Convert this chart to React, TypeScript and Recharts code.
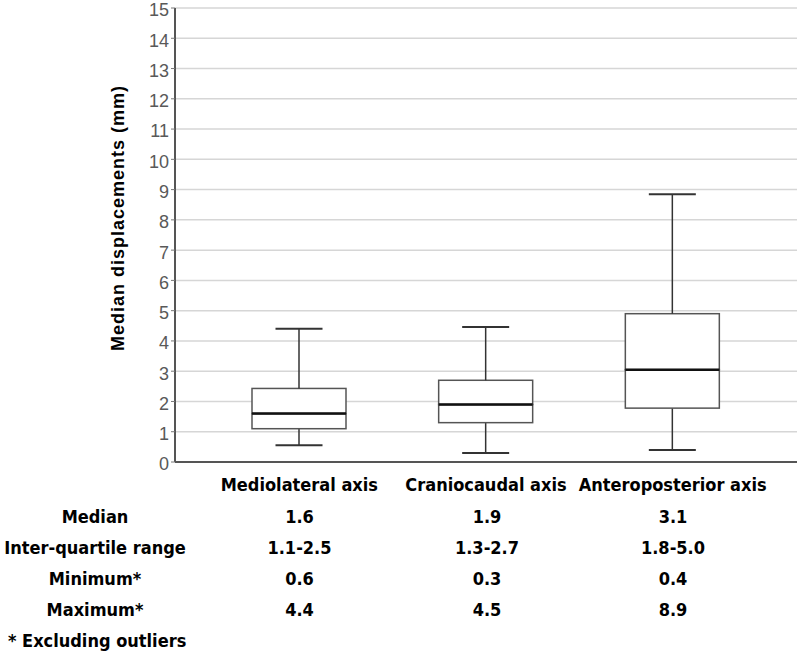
import React from 'react';
import { ComposedChart, Bar, XAxis, YAxis, CartesianGrid } from 'recharts';

const categories = ['Mediolateral axis', 'Craniocaudal axis', 'Anteroposterior axis'];
const minimums = [0.55, 0.3, 0.4];
const lowerQuartiles = [1.1, 1.3, 1.78];
const medians = [1.6, 1.9, 3.05];
const upperQuartiles = [2.43, 2.7, 4.9];
const maximums = [4.4, 4.46, 8.85];
const yTicks = [0, 1, 2, 3, 4, 5, 6, 7, 8, 9, 10, 11, 12, 13, 14, 15];

const rowLabels = ['Median', 'Inter-quartile range', 'Minimum*', 'Maximum*'];
const medianText = ['1.6', '1.9', '3.1'];
const iqrText = ['1.1-2.5', '1.3-2.7', '1.8-5.0'];
const minText = ['0.6', '0.3', '0.4'];
const maxText = ['4.4', '4.5', '8.9'];

const data = categories.map((name, i) => ({
  name,
  base: minimums[i],
  lowWhisker: lowerQuartiles[i] - minimums[i],
  boxLow: medians[i] - lowerQuartiles[i],
  boxHigh: upperQuartiles[i] - medians[i],
  highWhisker: maximums[i] - upperQuartiles[i],
}));

const NARROW = "'Liberation Sans Narrow', 'Arial Narrow', 'DejaVu Sans Condensed', sans-serif";
const ARIAL = "'Liberation Sans', Arial, sans-serif";
const LINE = '#333';
const BOX = '#555';

const Whisker = (props: any, capAtTop: boolean) => {
  const { x, y, width, height } = props;
  const cx = x + width / 2;
  const capY = capAtTop ? y : y + height;
  const half = width / 4;
  return (
    <g>
      <line x1={cx} x2={cx} y1={y} y2={y + height} stroke={LINE} strokeWidth={1.5} />
      <line x1={cx - half} x2={cx + half} y1={capY} y2={capY} stroke={LINE} strokeWidth={2} />
    </g>
  );
};

// the median sits on the bottom edge of the upper half of the box
const BoxPart = (props: any, medianAtBottom: boolean) => {
  const { x, y, width, height } = props;
  return (
    <g>
      <rect x={x} y={y} width={width} height={height} fill="#fff" stroke={BOX} strokeWidth={1.5} />
      {medianAtBottom && (
        <line x1={x} x2={x + width} y1={y + height} y2={y + height} stroke="#111" strokeWidth={2.5} />
      )}
    </g>
  );
};

const colCenters = [299.5, 487, 673];
const rowY = [516, 547, 578, 609];

const App: React.FC = () => {
  const rows = [medianText, iqrText, minText, maxText];
  return (
    <div style={{ position: 'absolute', left: 0, top: 0, width: 800, height: 652, background: '#fff' }}>
      <ComposedChart
        width={800}
        height={652}
        data={data}
        margin={{ top: 8, right: 3, left: 0, bottom: 0 }}
      >
        <CartesianGrid vertical={false} stroke="#d6d6d6" strokeWidth={1.5} />
        <XAxis
          dataKey="name"
          type="category"
          height={190}
          padding={{ left: 31, right: 31 }}
          tickLine={false}
          axisLine={{ stroke: '#555', strokeWidth: 2 }}
          tickMargin={10}
          tick={{ fill: '#000', fontSize: 18, fontWeight: 700, fontFamily: NARROW }}
        />
        <XAxis xAxisId="top" dataKey="name" orientation="top" height={0} tick={false} tickLine={false}
          axisLine={{ stroke: '#555', strokeWidth: 2 }} />
        <YAxis
          domain={[0, 15]}
          ticks={yTicks}
          width={175}
          interval={0}
          tickSize={4}
          tickLine={{ stroke: '#777' }}
          axisLine={{ stroke: '#555', strokeWidth: 2 }}
          tick={{ fill: '#595959', fontSize: 18, fontFamily: ARIAL, dy: 2 }}
          label={{
            content: () => (
              <text
                x={118}
                y={218}
                transform="rotate(-90,118,218)"
                textAnchor="middle"
                dominantBaseline="central"
                fontSize={18}
                fontWeight={700}
                letterSpacing={1}
                fontFamily={ARIAL}
                fill="#000"
              >
                Median displacements (mm)
              </text>
            ),
          }}
        />
        <YAxis yAxisId="right" orientation="right" width={0} domain={[0, 15]} tick={false} tickLine={false}
          axisLine={{ stroke: '#555', strokeWidth: 2 }} />
        <Bar dataKey="base" stackId="b" barSize={94} fill="none" isAnimationActive={false} />
        <Bar dataKey="lowWhisker" stackId="b" barSize={94} isAnimationActive={false}
          shape={(p: any) => Whisker(p, false)} />
        <Bar dataKey="boxLow" stackId="b" barSize={94} isAnimationActive={false}
          shape={(p: any) => BoxPart(p, false)} />
        <Bar dataKey="boxHigh" stackId="b" barSize={94} isAnimationActive={false}
          shape={(p: any) => BoxPart(p, true)} />
        <Bar dataKey="highWhisker" stackId="b" barSize={94} isAnimationActive={false}
          shape={(p: any) => Whisker(p, true)} />
      </ComposedChart>
      {rowLabels.map((label, r) => (
        <React.Fragment key={label}>
          <div style={{ position: 'absolute', left: 95, top: rowY[r], transform: 'translate(-50%, -50%)',
            fontFamily: NARROW, fontWeight: 700, fontSize: 18, whiteSpace: 'nowrap' }}>
            {label}
          </div>
          {rows[r].map((v, c) => (
            <div key={c} style={{ position: 'absolute', left: colCenters[c], top: rowY[r],
              transform: 'translate(-50%, -50%)', fontFamily: NARROW, fontWeight: 700, fontSize: 18,
              whiteSpace: 'nowrap' }}>
              {v}
            </div>
          ))}
        </React.Fragment>
      ))}
      <div style={{ position: 'absolute', left: 8, top: 640, transform: 'translateY(-50%)',
        fontFamily: NARROW, fontWeight: 700, fontSize: 18, whiteSpace: 'nowrap' }}>
        * Excluding outliers
      </div>
    </div>
  );
};

export default App;
